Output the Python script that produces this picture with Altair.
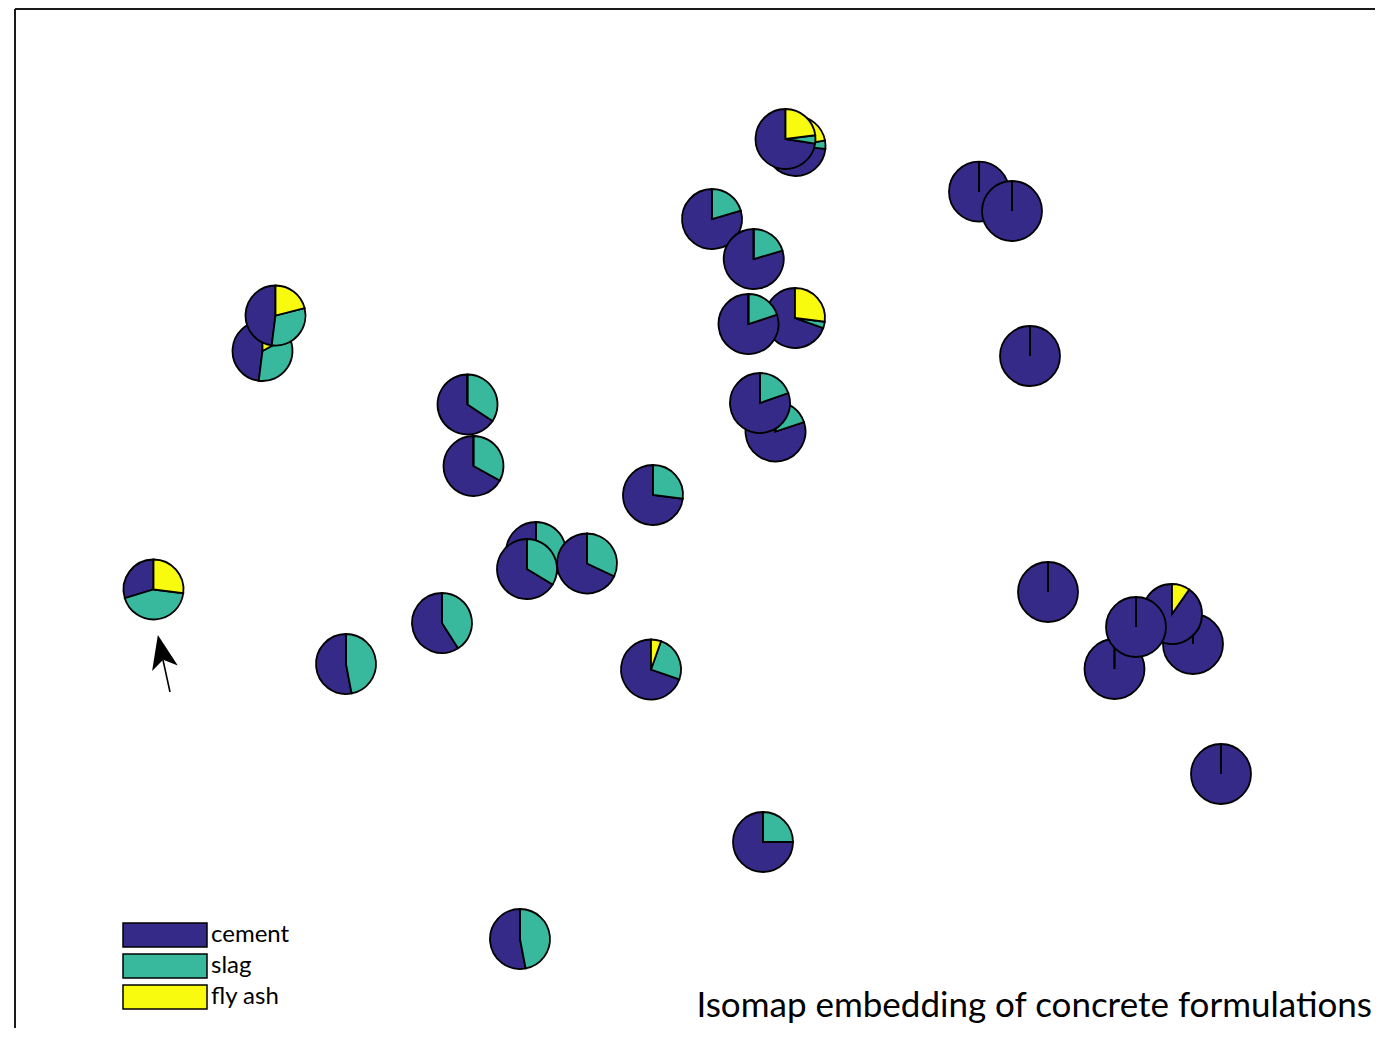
import math
import altair as alt
import pandas as pd

# ---- data (page-pixel coordinates of pie centres) ----
pie_x = [795.5, 785.5, 712, 753.7, 795, 748.5, 775.5, 760, 262.5, 275.5,
         467.5, 473.5, 536, 527, 587, 653, 442, 346, 651, 153.5,
         763, 520, 979, 1012, 1030, 1048, 1193, 1172, 1114.5, 1136, 1221]
pie_y = [146, 139, 219, 259, 318, 324, 431.5, 403, 351, 315.5,
         404.5, 466, 552, 569, 563.5, 495, 623, 664, 669.5, 589.5,
         842, 939, 191.7, 211, 356, 592, 644, 614, 669, 627, 774]
fly_ash = [0.22, 0.23, 0, 0, 0.27, 0, 0, 0, 0.17, 0.21,
           0, 0, 0, 0, 0, 0, 0, 0, 0.054, 0.27,
           0, 0, 0, 0, 0, 0, 0, 0.097, 0, 0, 0]
slag = [0.045, 0.045, 0.205, 0.205, 0.035, 0.20, 0.20, 0.196, 0.35, 0.31,
        0.343, 0.33, 0.33, 0.337, 0.32, 0.27, 0.41, 0.47, 0.249, 0.433,
        0.25, 0.47, 0, 0, 0, 0, 0, 0, 0, 0, 0]
cement = [0.735, 0.725, 0.795, 0.795, 0.695, 0.80, 0.80, 0.804, 0.48, 0.48,
          0.657, 0.67, 0.67, 0.663, 0.68, 0.73, 0.59, 0.53, 0.697, 0.297,
          0.75, 0.53, 1, 1, 1, 1, 1, 0.903, 1, 1, 1]

components = ["fly ash", "slag", "cement"]
legend_order = ["cement", "slag", "fly ash"]
colors = ["#352a87", "#38b89c", "#f9fb0e"]

# arrow (tail, neck and arrow-head centre)
arrow_tail = (170, 692)
arrow_neck = (163, 660)
arrow_head = (161.5, 652)

title_text = "Isomap embedding of concrete formulations"

W, H = 1360, 1019
X0, Y0 = 15, 9

rows = []
for i in range(len(pie_x)):
    for k, (comp, vals) in enumerate(zip(components, [fly_ash, slag, cement])):
        rows.append({"pie": i, "k": k, "px": pie_x[i], "py": pie_y[i],
                     "comp": comp, "frac": vals[i]})
pies = pd.DataFrame(rows)

xs = alt.Scale(domain=[X0, X0 + W], range=[0, W], nice=False, zero=False)
ys = alt.Scale(domain=[Y0 + H, Y0], nice=False, zero=False)

arcs = alt.Chart(pies).transform_window(
    cum="sum(frac)", groupby=["pie"], sort=[alt.SortField("k")],
    frame=[None, 0]
).transform_calculate(
    c0="datum.cum - datum.frac", draw="datum.pie * 3 + (2 - datum.k)"
).mark_arc(radius=30, stroke="black", strokeWidth=1.8).encode(
    x=alt.X("px:Q", scale=xs, axis=None),
    y=alt.Y("py:Q", scale=ys, axis=None),
    theta=alt.Theta("c0:Q", scale=alt.Scale(domain=[0, 1], range=[0, 2 * math.pi]), stack=None),
    theta2=alt.Theta2("cum:Q"),
    color=alt.Color("comp:N", scale=alt.Scale(domain=legend_order, range=colors),
                    legend=alt.Legend(orient="none", legendX=107, legendY=913, title=None,
                                      symbolType="M-1,-1H6V1H-1Z", symbolSize=576,
                                      symbolStrokeColor="black", symbolStrokeWidth=1.5,
                                      symbolOpacity=1, labelFontSize=24, labelFont="Lato",
                                      labelColor="black", labelOffset=63, rowPadding=1,
                                      padding=0)),
    order=alt.Order("draw:Q"),
)

arrow_df = pd.DataFrame([{"x1": arrow_tail[0], "y1": arrow_tail[1],
                          "x2": arrow_neck[0], "y2": arrow_neck[1],
                          "hx": arrow_head[0], "hy": arrow_head[1]}])
arrow_line = alt.Chart(arrow_df).mark_rule(color="black", strokeWidth=1.6).encode(
    x=alt.X("x1:Q", scale=xs, axis=None), y=alt.Y("y1:Q", scale=ys, axis=None),
    x2="x2:Q", y2="y2:Q")
arrow_tip = alt.Chart(arrow_df).mark_point(
    shape="M0,-1L0.75,0.95L0,0.45L-0.75,0.95Z", size=1225, filled=True,
    color="black", opacity=1, angle=348).encode(
    x=alt.X("hx:Q", scale=xs, axis=None), y=alt.Y("hy:Q", scale=ys, axis=None))

frame_top = alt.Chart(arrow_df).mark_rule(color="#1a1a1a", strokeWidth=2).encode(
    x=alt.value(0), x2=alt.value(W + 10), y=alt.value(0))
frame_left = alt.Chart(arrow_df).mark_rule(color="#1a1a1a", strokeWidth=2).encode(
    x=alt.value(0), y=alt.value(0), y2=alt.value(H + 30))

title = alt.Chart(pd.DataFrame({"t": [title_text]})).mark_text(
    align="right", baseline="alphabetic", font="Lato", fontSize=35, color="black").encode(
    text="t:N", x=alt.value(1372 - X0), y=alt.value(1017 - Y0))

chart = alt.layer(arcs, arrow_line, arrow_tip, frame_top, frame_left, title).properties(
    width=W, height=H, padding={"left": 7, "top": 1, "right": 0, "bottom": 0},
    autosize=alt.AutoSizeParams(type="none")
).configure_view(stroke=None)

chart.save("out.html", embed_options={"renderer": "svg", "actions": False})
